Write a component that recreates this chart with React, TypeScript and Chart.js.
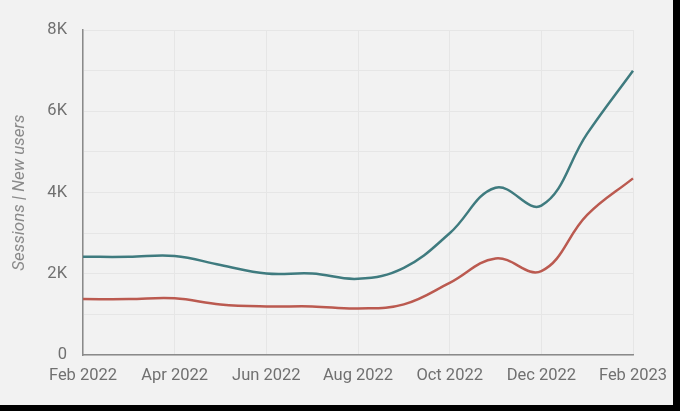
import { Chart, registerables, ScriptableScaleContext } from 'chart.js';
import { useEffect, useRef } from 'react';

Chart.register(...registerables);

const months = [
  'Feb 2022', 'Mar 2022', 'Apr 2022', 'May 2022', 'Jun 2022', 'Jul 2022', 'Aug 2022',
  'Sep 2022', 'Oct 2022', 'Nov 2022', 'Dec 2022', 'Jan 2023', 'Feb 2023',
];
const sessions = [2420, 2420, 2440, 2220, 2010, 2010, 1880, 2150, 3000, 4120, 3680, 5450, 7000];
const newUsers = [1380, 1380, 1400, 1250, 1200, 1200, 1150, 1250, 1780, 2380, 2070, 3450, 4350];
const yTickLabels = ['0', '2K', '4K', '6K', '8K'];

const App = () => {
  const chartRef = useRef<HTMLCanvasElement | null>(null);

  useEffect(() => {
    document.body.style.margin = '0';
    if (!chartRef.current) return;
    const ctx = chartRef.current.getContext('2d');
    if (!ctx) return;

    const tickFont = { family: 'Roboto', size: 16.5 };

    const chartInstance = new Chart(ctx, {
      type: 'line',
      data: {
        labels: months,
        datasets: [
          {
            label: 'Sessions',
            data: sessions,
            borderColor: '#3f7b7f',
            borderWidth: 2.5,
            pointRadius: 0,
            tension: 0.4,
          },
          {
            label: 'New users',
            data: newUsers,
            borderColor: '#bb5a50',
            borderWidth: 2.5,
            pointRadius: 0,
            tension: 0.4,
          },
        ],
      },
      options: {
        responsive: true,
        maintainAspectRatio: false,
        animation: false,
        layout: { padding: { top: 30, right: 40, bottom: 8 } },
        plugins: {
          legend: { display: false },
          tooltip: { enabled: false },
        },
        scales: {
          x: {
            grid: {
              drawTicks: false,
              color: (c: ScriptableScaleContext) => (c.index % 2 === 0 ? '#e6e6e6' : 'transparent'),
            },
            border: { color: '#8a8a8a', width: 1.5 },
            ticks: {
              autoSkip: false,
              maxRotation: 0,
              padding: 11,
              color: '#707070',
              font: tickFont,
              callback: (_v, i) => (i % 2 === 0 ? months[i] : ''),
            },
            afterFit: (scale) => {
              scale.paddingRight = 0;
              scale.paddingLeft = 0;
            },
          },
          y: {
            min: 0,
            max: 8000,
            grid: { drawTicks: false, color: '#e6e6e6' },
            border: { color: '#8a8a8a', width: 1.5 },
            ticks: {
              stepSize: 1000,
              padding: 16,
              color: '#707070',
              font: tickFont,
              callback: (v) => {
                const n = Number(v);
                return n % 2000 === 0 ? yTickLabels[n / 2000] : '';
              },
            },
            title: {
              display: true,
              text: 'Sessions | New users',
              color: '#8a8a8a',
              font: { family: 'Roboto', size: 17, style: 'italic' },
              padding: { top: 10, bottom: 0 },
            },
            afterFit: (scale) => {
              scale.width = 83;
            },
          },
        },
      },
    });

    return () => {
      chartInstance.destroy();
    };
  }, []);

  return (
    <div style={{ width: 680, height: 411, background: '#000' }}>
      <div style={{ width: 673, height: 405, background: '#f2f2f2' }}>
        <canvas ref={chartRef}></canvas>
      </div>
    </div>
  );
};

export default App;
